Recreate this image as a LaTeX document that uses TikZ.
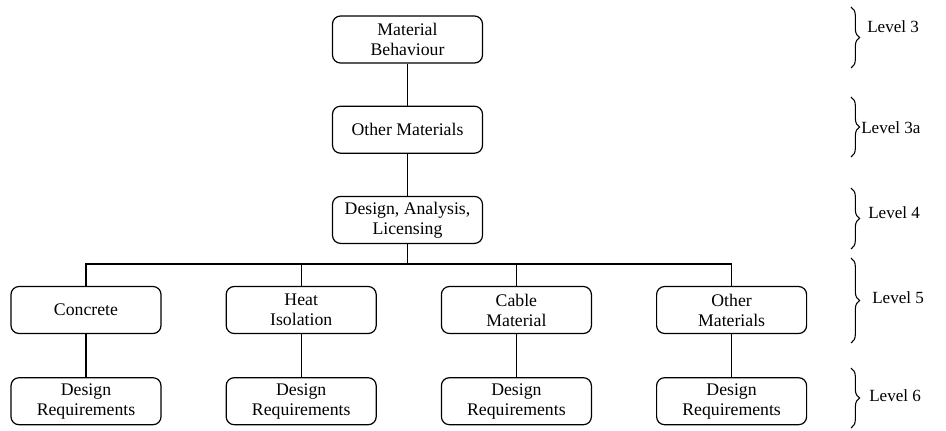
\documentclass[tikz,border=0pt]{standalone}
\usepackage{fontspec}
\setmainfont{Liberation Serif}
\usetikzlibrary{positioning, decorations.pathreplacing}

\begin{document}
\begin{tikzpicture}[
    x=0.75pt, y=-0.75pt,
    node distance=31.5pt and 48pt,
    box/.style={draw, rounded corners=6pt, line width=0.9pt, minimum width=112.5pt, minimum height=35.25pt, align=center, inner sep=2pt, font=\fontsize{13.3}{15}\selectfont},
    link/.style={line width=0.9pt},
    lvlbrace/.style={decorate, decoration={brace, amplitude=6.5pt}, line width=0.8pt},
    lvltext/.style={anchor=west, inner sep=0pt, font=\fontsize{12.8}{14}\selectfont}
  ]
  \useasboundingbox (0,0) rectangle (946,430);

  % Nodes
  \node[box] (behaviour) at (407.5,39.5) {Material\\Behaviour};
  \node[box, below=of behaviour] (othermat) {Other Materials};
  \node[box, below=of othermat] (design) {Design, Analysis,\\Licensing};

  \node[box] (concrete) at (86,310) {Concrete};
  \node[box, right=of concrete] (heat) {Heat\\Isolation};
  \node[box, right=of heat] (cable) {Cable\\Material};
  \node[box, right=of cable] (others) {Other\\Materials};

  \node[box, below=32.25pt of concrete] (reqconcrete) {Design\\Requirements};
  \node[box, below=32.25pt of heat] (reqheat) {Design\\Requirements};
  \node[box, below=32.25pt of cable] (reqcable) {Design\\Requirements};
  \node[box, below=32.25pt of others] (reqothers) {Design\\Requirements};

  \coordinate (bus) at (407.5,264);

  % Edges
  \draw[link] (behaviour) -- (othermat);
  \draw[link] (othermat) -- (design);
  \draw[link] (design) -- (bus);
  \draw[link] (concrete.north) |- (bus) -| (others.north);
  \draw[link] (heat.north) -- (heat.north |- bus);
  \draw[link] (cable.north) -- (cable.north |- bus);
  \foreach \m in {concrete, heat, cable, others}
    \draw[link] (\m) -- (req\m);

  % Levels
  \draw[lvlbrace] (851,7) -- (851,68);
  \draw[lvlbrace] (851,97) -- (851,157);
  \draw[lvlbrace] (851,188) -- (851,249);
  \draw[lvlbrace] (851,258) -- (851,343);
  \draw[lvlbrace] (851,368) -- (851,428);
  \node[lvltext] (lvl3) at (867,27) {Level 3};
  \node[lvltext] (lvl3a) at (861,128) {Level 3a};
  \node[lvltext] (lvl4) at (868,213) {Level 4};
  \node[lvltext] (lvl5) at (872,298) {Level 5};
  \node[lvltext] (lvl6) at (869,396) {Level 6};
\end{tikzpicture}
\end{document}
